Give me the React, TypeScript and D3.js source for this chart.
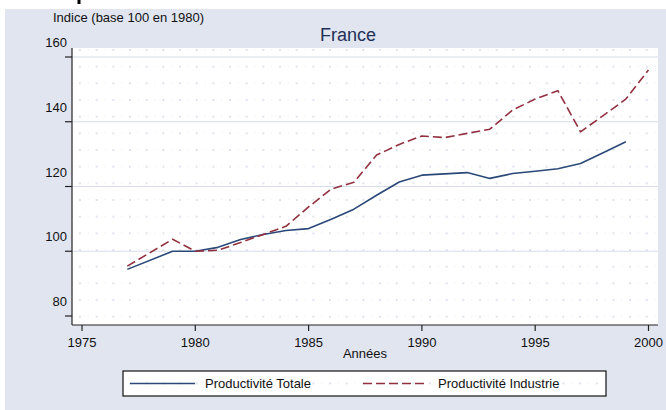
import React from "react";
import * as d3 from "d3";

const yearsTotale = [1977, 1979, 1980, 1981, 1982, 1983, 1984, 1985, 1986, 1987, 1988, 1989, 1990, 1991, 1992, 1993, 1994, 1995, 1996, 1997, 1998, 1999];
const totale = [94.4, 100, 100, 101.2, 103.6, 105.2, 106.4, 107, 109.9, 113, 117.3, 121.4, 123.5, 123.9, 124.3, 122.5, 124, 124.7, 125.5, 127.1, 130.4, 133.8];
const yearsIndustrie = [1977, 1979, 1980, 1981, 1982, 1983, 1984, 1985, 1986, 1987, 1988, 1989, 1990, 1991, 1992, 1993, 1994, 1995, 1996, 1997, 1998, 1999, 2000];
const industrie = [95.4, 103.7, 100, 100.3, 102.7, 105.2, 107.7, 113.7, 119.2, 121.3, 129.7, 133, 135.6, 135.1, 136.4, 137.7, 143.6, 147, 149.6, 136.9, 141.9, 147, 156];
const xTicks = [1975, 1980, 1985, 1990, 1995, 2000];
const yTicks = [80, 100, 120, 140, 160];
const seriesNames = ["Productivité Totale", "Productivité Industrie"];
const titleText = "France";
const yTitle = "Indice (base 100 en 1980)";
const xTitle = "Années";

const W = 666;
const H = 410;
const plotL = 72, plotR = 658, plotT = 48, plotB = 325;
const FONT = "'Liberation Sans', Arial, Helvetica, sans-serif";
const NAVY = "#2A4878";
const MAROON = "#933040";

export default function App() {
  const x = d3.scaleLinear().domain([1975, 2000]).range([82, 648.5]);
  const y = d3.scaleLinear().domain([80, 160]).range([316, 57]);
  const line = d3.line<[number, number]>().x(d => x(d[0])).y(d => y(d[1]));
  const totPts = yearsTotale.map((yr, i) => [yr, totale[i]] as [number, number]);
  const indPts = yearsIndustrie.map((yr, i) => [yr, industrie[i]] as [number, number]);

  return (
    <div style={{ position: "absolute", left: 0, top: 0 }}>
      <svg width={W} height={H} style={{ display: "block", fontFamily: FONT }}>
        <defs>
          <pattern id="dots" patternUnits="userSpaceOnUse" x={79} y={49} width={16.67} height={16.67}>
            <circle cx={1} cy={1} r={1} fill="#D4DAE8" />
            <circle cx={9.3} cy={0.2} r={0.6} fill="#E0E4EE" />
          </pattern>
        </defs>
        <rect x={0} y={0} width={W} height={H} fill="#ffffff" />
        <rect x={77.5} y={0} width={3} height={4} fill="#000" />
        <rect x={5} y={9} width={W - 5} height={H - 9} fill="#E0E5F0" />
        <rect x={plotL} y={plotT} width={plotR - plotL} height={plotB - plotT} fill="#ffffff" />
        <rect x={plotL} y={plotT} width={plotR - plotL} height={plotB - plotT} fill="url(#dots)" />
        {yTicks.filter(t => t !== 80).map(t => (
          <line key={t} x1={plotL} x2={plotR} y1={y(t)} y2={y(t)} stroke="#D6DDEA" strokeWidth={1.2} />
        ))}
        <text x={348} y={41} textAnchor="middle" fontSize={18} fill="#1F3057">{titleText}</text>
        <text x={53} y={22} fontSize={13} fill="#111">{yTitle}</text>
        <line x1={plotL} x2={plotL} y1={plotT} y2={plotB} stroke="#222" strokeWidth={1.2} />
        {yTicks.map(t => (
          <g key={t}>
            <line x1={65} x2={plotL} y1={y(t)} y2={y(t)} stroke="#222" strokeWidth={1.2} />
            <text x={67} y={y(t) - 10} textAnchor="end" fontSize={13} fill="#111">{t}</text>
          </g>
        ))}
        <line x1={plotL} x2={plotR} y1={plotB} y2={plotB} stroke="#222" strokeWidth={1.2} />
        {xTicks.map(t => (
          <g key={t}>
            <line x1={x(t)} x2={x(t)} y1={plotB} y2={plotB + 6} stroke="#222" strokeWidth={1.2} />
            <text x={x(t)} y={plotB + 22} textAnchor="middle" fontSize={13} fill="#111">{t}</text>
          </g>
        ))}
        <text x={(plotL + plotR) / 2} y={358} textAnchor="middle" fontSize={13} fill="#111">{xTitle}</text>
        <path d={line(totPts) || ""} fill="none" stroke={NAVY} strokeWidth={1.6} strokeLinejoin="round" />
        <path d={line(indPts) || ""} fill="none" stroke={MAROON} strokeWidth={1.6} strokeDasharray="9 4" strokeLinejoin="round" />
        <rect x={123} y={371} width={483} height={25} fill="#ffffff" />
        <rect x={123} y={371} width={483} height={25} fill="url(#dots)" stroke="#111" strokeWidth={1.2} />
        <line x1={130} x2={195} y1={383.5} y2={383.5} stroke={NAVY} strokeWidth={1.6} />
        <text x={205} y={388} fontSize={13} fill="#111">{seriesNames[0]}</text>
        <line x1={363} x2={428} y1={383.5} y2={383.5} stroke={MAROON} strokeWidth={1.6} strokeDasharray="9 4" />
        <text x={438} y={388} fontSize={13} fill="#111">{seriesNames[1]}</text>
      </svg>
    </div>
  );
}
